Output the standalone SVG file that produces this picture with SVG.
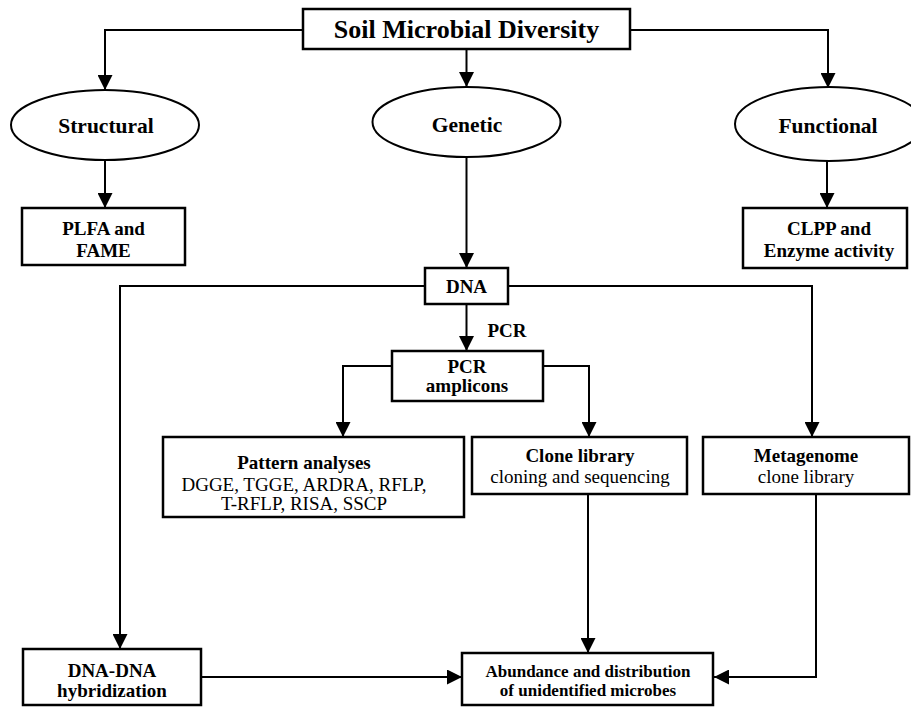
<svg xmlns="http://www.w3.org/2000/svg" width="911" height="708" viewBox="0 0 911 708">
<style>
.box{fill:#fff;stroke:#000;stroke-width:2.5}
.ell{fill:#fff;stroke:#000;stroke-width:2}
.c{fill:none;stroke:#000;stroke-width:2}
text{font-family:"Liberation Serif","Times New Roman",serif;fill:#000;text-anchor:middle}
.b{font-weight:bold;font-size:19px}
.r{font-size:19px}
.e{font-weight:bold;font-size:21.5px}
</style>
<defs>
<marker id="ah" markerUnits="userSpaceOnUse" markerWidth="16" markerHeight="15" refX="15" refY="7.5" orient="auto">
<path d="M0,0 L15,7.5 L0,15 z" fill="#000"/>
</marker>
</defs>
<rect width="911" height="708" fill="#fff"/>
<g id="connectors">
<path class="c" d="M303,30 H105 V90" marker-end="url(#ah)"/>
<path class="c" d="M466.5,49 V87" marker-end="url(#ah)"/>
<path class="c" d="M630,30 H828 V88" marker-end="url(#ah)"/>
<path class="c" d="M105,160 V208" marker-end="url(#ah)"/>
<path class="c" d="M827,161 V208" marker-end="url(#ah)"/>
<path class="c" d="M466.5,157 V268" marker-end="url(#ah)"/>
<path class="c" d="M466.5,304 V351" marker-end="url(#ah)"/>
<path class="c" d="M425,286 H120 V649" marker-end="url(#ah)"/>
<path class="c" d="M508,286 H812 V437" marker-end="url(#ah)"/>
<path class="c" d="M392,366 H343 V437" marker-end="url(#ah)"/>
<path class="c" d="M543,366 H589 V437" marker-end="url(#ah)"/>
<path class="c" d="M588,494 V653" marker-end="url(#ah)"/>
<path class="c" d="M816,494 V677 H714" marker-end="url(#ah)"/>
<path class="c" d="M201,677 H462" marker-end="url(#ah)"/>
<text class="b" x="507" y="337">PCR</text>
</g>
<g id="title">
<rect class="box" x="303" y="9" width="327" height="40"/>
<text x="466.5" y="38" style="font-weight:bold;font-size:26px">Soil Microbial Diversity</text>
</g>
<g id="structural">
<ellipse class="ell" cx="105" cy="125" rx="94" ry="35"/>
<text class="e" x="106" y="133">Structural</text>
</g>
<g id="genetic">
<ellipse class="ell" cx="466.5" cy="122" rx="94" ry="35"/>
<text class="e" x="467" y="132">Genetic</text>
</g>
<g id="functional">
<ellipse class="ell" cx="829" cy="124" rx="94" ry="37"/>
<text class="e" x="828" y="133">Functional</text>
</g>
<g id="plfa">
<rect class="box" x="22" y="208" width="163" height="57"/>
<text class="b" x="103.5" y="235">PLFA and</text>
<text class="b" x="103.5" y="257">FAME</text>
</g>
<g id="clpp">
<rect class="box" x="743" y="208" width="164" height="60"/>
<text class="b" x="829" y="235">CLPP and</text>
<text class="b" x="829" y="257">Enzyme activity</text>
</g>
<g id="dna">
<rect class="box" x="425" y="268" width="83" height="36"/>
<text class="b" x="466.5" y="293">DNA</text>
</g>
<g id="pcr">
<rect class="box" x="392" y="351" width="151" height="50"/>
<text class="b" x="467" y="373">PCR</text>
<text class="b" x="467" y="392">amplicons</text>
</g>
<g id="pattern">
<rect class="box" x="163" y="437" width="301" height="80"/>
<text class="b" x="304" y="469">Pattern analyses</text>
<text class="r" x="304" y="491">DGGE, TGGE, ARDRA, RFLP,</text>
<text class="r" x="304" y="510">T-RFLP, RISA, SSCP</text>
</g>
<g id="clone">
<rect class="box" x="472" y="437" width="215" height="57"/>
<text class="b" x="580" y="462">Clone library</text>
<text class="r" x="580" y="483">cloning and sequencing</text>
</g>
<g id="metagenome">
<rect class="box" x="703" y="437" width="206" height="57"/>
<text class="b" x="806" y="462">Metagenome</text>
<text class="r" x="806" y="483">clone library</text>
</g>
<g id="dnadna">
<rect class="box" x="23" y="649" width="178" height="56"/>
<text class="b" x="112" y="677">DNA-DNA</text>
<text class="b" x="112" y="697">hybridization</text>
</g>
<g id="abundance">
<rect class="box" x="462" y="653" width="251" height="52"/>
<text x="588" y="677" style="font-weight:bold;font-size:17px">Abundance and distribution</text>
<text x="588" y="696" style="font-weight:bold;font-size:17px">of unidentified microbes</text>
</g>
</svg>
